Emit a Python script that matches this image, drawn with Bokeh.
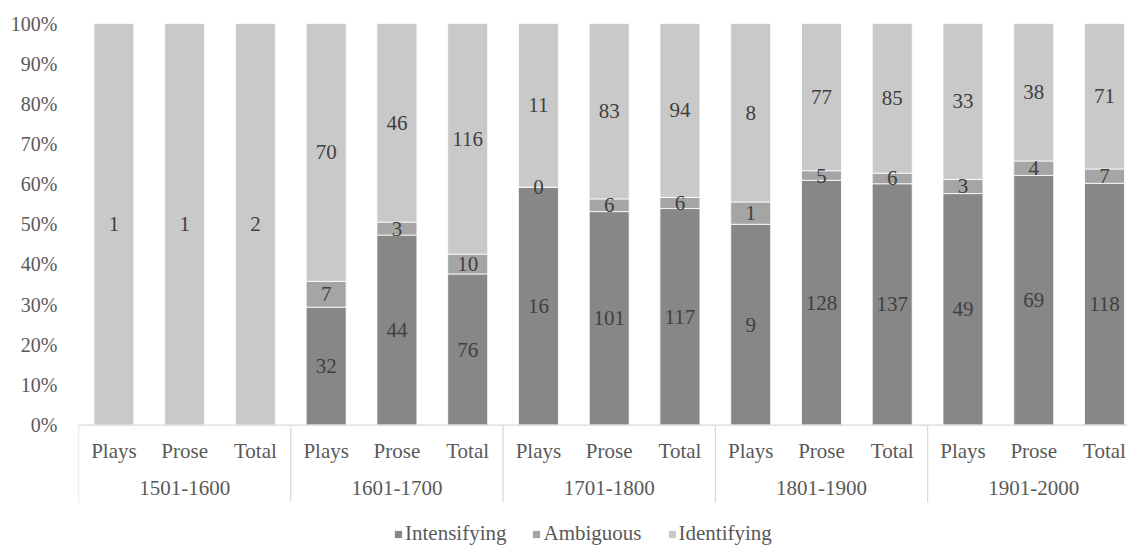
import numpy as np
from bokeh.plotting import figure
from bokeh.models import (Range1d, FixedTicker, PrintfTickFormatter, ColumnDataSource,
                          Legend, LegendItem, Span)
from bokeh.core.properties import value
from bokeh.embed import file_html
from bokeh.resources import INLINE

periods = ["1501-1600", "1601-1700", "1701-1800", "1801-1900", "1901-2000"]
kinds = ["Plays", "Prose", "Total"]
intensifying = [None, None, None, 32, 44, 76, 16, 101, 117, 9, 128, 137, 49, 69, 118]
ambiguous = [None, None, None, 7, 3, 10, 0, 6, 6, 1, 5, 6, 3, 4, 7]
identifying = [1, 1, 2, 70, 46, 116, 11, 83, 94, 8, 77, 85, 33, 38, 71]
y_ticks = [0, 10, 20, 30, 40, 50, 60, 70, 80, 90, 100]

C_I, C_A, C_D = "#878787", "#a5a5a5", "#c9c9c9"
FONT = "Liberation Serif"
FS = "21px"

n = len(identifying)
xs = np.arange(n, dtype=float)
def arr(a):
    return np.array([0 if v is None else v for v in a], dtype=float)
I, A, D = arr(intensifying), arr(ambiguous), arr(identifying)
tot = I + A + D
pi, pa, pd = I / tot * 100, A / tot * 100, D / tot * 100
top_i = pi
top_a = pi + pa
top_d = pi + pa + pd

p = figure(width=1127, height=545, output_backend="svg", toolbar_location=None,
           x_range=Range1d(-0.5, 14.325), y_range=Range1d(-30, 100),
           x_axis_location=None, min_border_left=78, min_border_right=0,
           min_border_top=23, min_border_bottom=0)
p.outline_line_color = None
p.ygrid.grid_line_color = None
p.xgrid.grid_line_color = None
p.background_fill_color = "white"
p.border_fill_color = "white"

src = ColumnDataSource(dict(x=xs, i1=top_i, a1=top_a, d1=top_d))
bw = 0.565
r1 = p.vbar(x="x", width=bw, bottom=0, top="i1", source=src, fill_color=C_I,
            line_color="white", line_width=0.8)
r2 = p.vbar(x="x", width=bw, bottom="i1", top="a1", source=src, fill_color=C_A,
            line_color="white", line_width=0.8)
r3 = p.vbar(x="x", width=bw, bottom="a1", top="d1", source=src, fill_color=C_D,
            line_color="white", line_width=0.8)

# data labels
lx, ly, lt = [], [], []
for series, bot, top in ((intensifying, np.zeros(n), top_i),
                         (ambiguous, top_i, top_a),
                         (identifying, top_a, top_d)):
    for k, v in enumerate(series):
        if v is None:
            continue
        lx.append(xs[k]); ly.append((bot[k] + top[k]) / 2); lt.append(str(v))
p.text(x=lx, y=ly, text=lt, text_align="center", text_baseline="middle",
       text_font=value(FONT), text_font_size=FS, text_color="#404040")

# axis line and group separators
p.add_layout(Span(location=0, dimension="width", line_color="#d9d9d9", line_width=1.2))
sep_x = [-0.5 + 3 * g for g in range(len(periods))]
p.segment(x0=sep_x, y0=[0] * len(sep_x), x1=sep_x, y1=[-19.3] * len(sep_x),
          line_color="#d9d9d9", line_width=1.2)

# category labels
cat_labels = [kinds[k % 3] for k in range(n)]
p.text(x=xs, y=[-6.35] * n, text=cat_labels, text_align="center", text_baseline="middle",
       text_font=value(FONT), text_font_size=FS, text_color="#595959")
gx = [3 * g + 1 for g in range(len(periods))]
p.text(x=gx, y=[-15.8] * len(gx), text=periods, text_align="center", text_baseline="middle",
       text_font=value(FONT), text_font_size=FS, text_color="#595959")

# y axis
ax = p.yaxis[0]
ax.ticker = FixedTicker(ticks=y_ticks)
ax.formatter = PrintfTickFormatter(format="%d%%")
ax.axis_line_color = None
ax.major_tick_line_color = None
ax.minor_tick_line_color = None
ax.major_tick_out = 0
ax.major_tick_in = 0
ax.major_label_standoff = 21
ax.major_label_text_font = FONT
ax.major_label_text_font_size = "20px"
ax.major_label_text_color = "#595959"

legend = Legend(items=[LegendItem(label="Intensifying", renderers=[r1]),
                       LegendItem(label="Ambiguous", renderers=[r2]),
                       LegendItem(label="Identifying", renderers=[r3])],
                orientation="horizontal", location=(315, -1),
                glyph_width=10, glyph_height=10, label_standoff=2, spacing=25,
                padding=0, margin=0, border_line_color=None,
                background_fill_alpha=0, label_text_font=FONT,
                label_text_font_size=FS, label_text_color="#595959",
                label_height=20)
p.add_layout(legend)

open("out.html", "w").write(file_html(p, INLINE))
